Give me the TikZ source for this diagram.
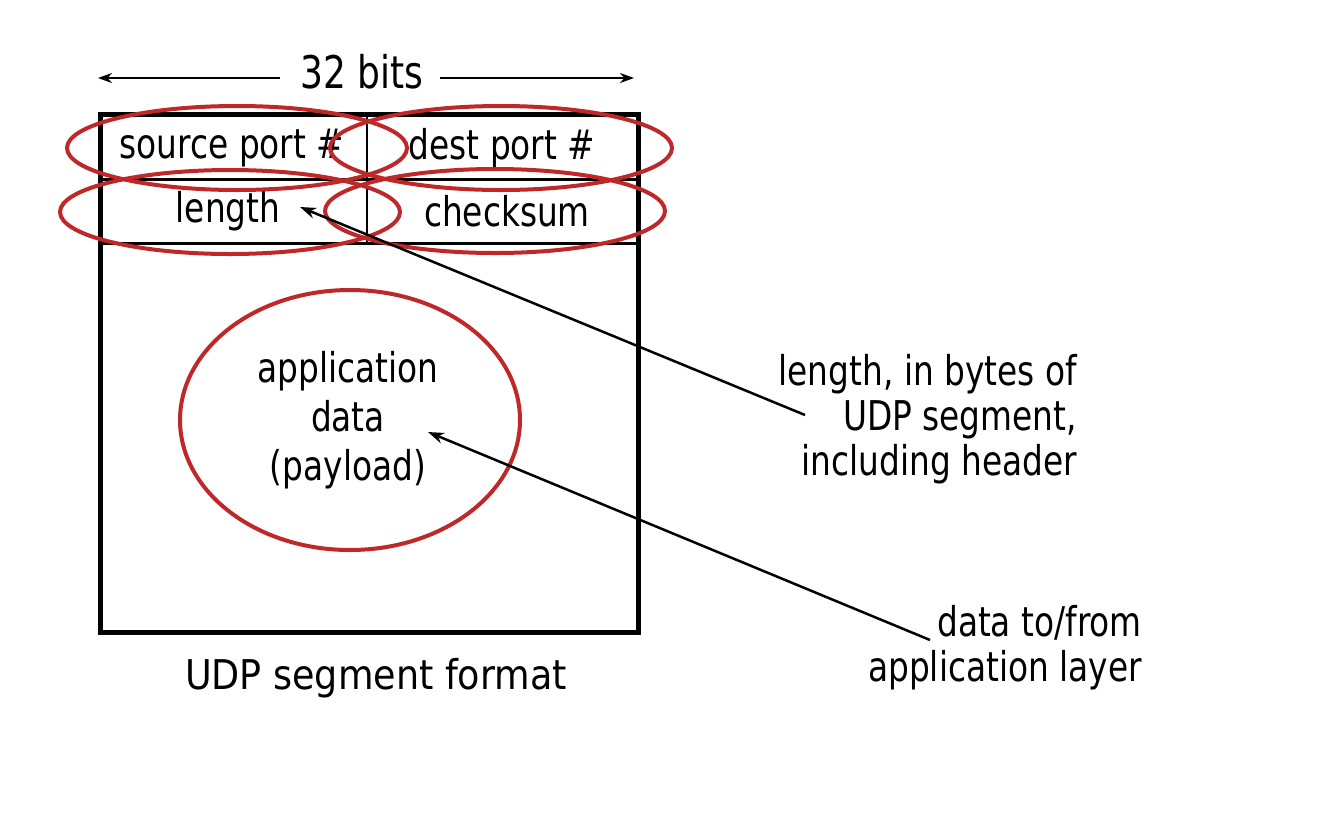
\documentclass[tikz,border=0pt]{standalone}
\usepackage{fontspec}
\setmainfont[FakeStretch=0.8]{DejaVu Sans}
\newfontfamily\widefont[FakeStretch=0.89]{DejaVu Sans}
\usetikzlibrary{arrows.meta}
\definecolor{ovalred}{RGB}{190,40,40}
\tikzset{
  oval/.style={draw=ovalred,line width=4pt},
  lbl/.style={font=\fontsize{41}{45}\selectfont,inner sep=0pt},
  ptr/.style={draw,line width=2.5pt,-{Stealth[length=16pt,width=11pt]}},
}
\begin{document}
\begin{tikzpicture}[x=1pt,y=-1pt]
\useasboundingbox (0,0) rectangle (1344,812);
% box
\draw[line width=3pt] (100,179) -- (638,179);
\draw[line width=3pt] (100,243) -- (638,243);
\draw[line width=2.5pt] (367,114) -- (367,243);
\draw[line width=5pt] (100,114) rectangle (638,632);
% width label
\node[font=\fontsize{45}{50}\selectfont,inner sep=0pt] (bits) at (362,72) {32 bits};
\coordinate (bl) at (98,78);
\coordinate (br) at (634,78);
\draw[line width=2.5pt,-{Stealth[length=14pt,width=10pt]}] (280,78) -- (bl);
\draw[line width=2.5pt,-{Stealth[length=14pt,width=10pt]}] (440,78) -- (br);
% fields
\node[lbl] (src) at (232,148) {source port \#};
\node[lbl] (dst) at (502,148) {dest port \#};
\node[lbl] (len) at (228,211) {length};
\node[lbl] (chk) at (507,211) {checksum};
\node[lbl,align=center,font=\fontsize{41}{49}\selectfont] (app) at (348,420) {application\\data\\(payload)};
\node[lbl,font=\widefont\fontsize{41}{45}\selectfont] (fmt) at (376,678) {UDP segment format};
% ovals
\draw[oval] (237,148) ellipse [x radius=170,y radius=42];
\draw[oval] (501,148) ellipse [x radius=171,y radius=42];
\draw[oval] (230,212) ellipse [x radius=170,y radius=42];
\draw[oval] (495,211) ellipse [x radius=170,y radius=42];
\draw[oval] (350,420) ellipse [x radius=170,y radius=130];
% notes
\node[lbl,align=right,anchor=north east] (lnote) at (1077,354) {length, in bytes of\\UDP segment,\\including header};
\node[lbl,align=right,anchor=north east] (dnote) at (1142,605) {data to/from\\application layer};
\coordinate (lstart) at (805,415);
\coordinate (dstart) at (930,640);
\coordinate (lend) at (300,207);
\coordinate (dend) at (428,432);
\draw[ptr] (lstart) -- (lend);
\draw[ptr] (dstart) -- (dend);
\end{tikzpicture}
\end{document}
